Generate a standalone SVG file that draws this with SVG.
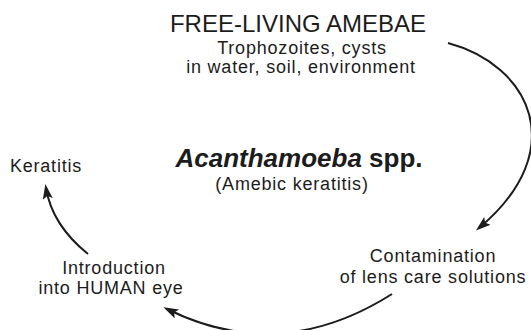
<svg xmlns="http://www.w3.org/2000/svg" width="531" height="330" viewBox="0 0 531 330">
  <style>
    text { font-family: "Liberation Sans", Arial, sans-serif; fill: #1c1c1c; text-anchor: middle; }
    .t { font-size: 18px; letter-spacing: 0.8px; }
    .title { font-size: 24px; }
    .main { font-size: 26px; font-weight: bold; }
    .conn { fill: none; stroke: #1c1c1c; stroke-width: 2; }
  </style>
  <defs>
    <marker id="ah" markerUnits="userSpaceOnUse" markerWidth="16" markerHeight="11" refX="11" refY="5" orient="auto">
      <path d="M0,0 L15,5 L0,10 L3,5 Z" fill="#1c1c1c"/>
    </marker>
  </defs>
  <rect width="531" height="330" fill="#ffffff"/>

  <g id="free-living">
    <text class="title" x="298" y="32">FREE-LIVING AMEBAE</text>
    <text class="t" x="302" y="54">Trophozoites, cysts</text>
    <text class="t" x="301" y="73">in water, soil, environment</text>
  </g>

  <g id="center">
    <text class="main" x="299" y="167"><tspan font-style="italic">Acanthamoeba</tspan> spp.</text>
    <text class="t" x="292" y="190">(Amebic keratitis)</text>
  </g>

  <g id="keratitis">
    <text class="t" x="46" y="172">Keratitis</text>
  </g>

  <g id="contamination">
    <text class="t" x="433" y="262">Contamination</text>
    <text class="t" x="433" y="283">of lens care solutions</text>
  </g>

  <g id="introduction">
    <text class="t" x="114" y="274">Introduction</text>
    <text class="t" x="111" y="294">into HUMAN eye</text>
  </g>

  <g id="connectors">
    <path class="conn" d="M448,43 C530,65 572,150 479,228" marker-end="url(#ah)"/>
    <path class="conn" d="M392,294 Q280,365 167,309" marker-end="url(#ah)"/>
    <path class="conn" d="M88,254 Q52,225 46,188" marker-end="url(#ah)"/>
  </g>
</svg>
